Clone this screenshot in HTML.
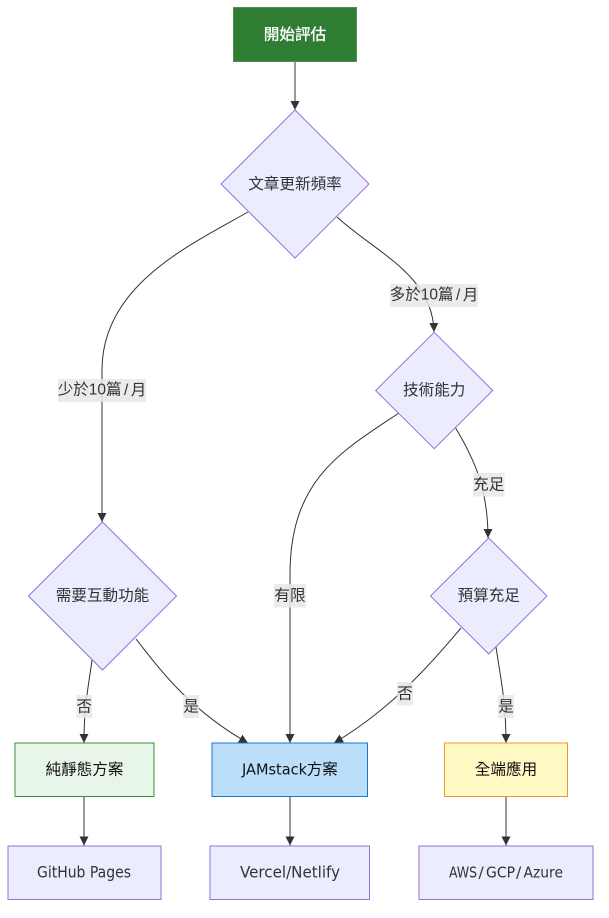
<!DOCTYPE html>
<html><head><meta charset="utf-8">
<style>
html,body{margin:0;padding:0;background:#fff;width:609px;height:918px;overflow:hidden}
svg{display:block}
text{font-family:"DejaVu Sans","Noto Sans CJK TC",sans-serif;font-size:15.6px;fill:#333;text-anchor:middle;dominant-baseline:central}
.s{text-anchor:start;font-size:15.5px}
.d{font-family:"Liberation Sans","Noto Sans CJK TC",sans-serif;font-size:15.5px}
.e{fill:none;stroke:#333;stroke-width:1}
.n{fill:#ECECFF;stroke:#9370DB;stroke-width:1}
.l{fill:#e8e8e8;fill-opacity:.85;stroke:none}
</style></head><body>
<svg width="609" height="918" viewBox="0 0 609 918" xmlns="http://www.w3.org/2000/svg">
<defs>
<marker id="a" markerUnits="userSpaceOnUse" markerWidth="10" markerHeight="10" refX="9" refY="4.5" orient="auto">
<path d="M0,0 L9,4.5 L0,9 z" fill="#333"/>
</marker>
</defs>

<g class="edges">
<path class="e" d="M295,61.5 L295,110" marker-end="url(#a)"/>
<path class="e" d="M248,212 C190,245 102,285 102,370 L102,522" marker-end="url(#a)"/>
<path class="e" d="M337,217 C375,252 433,275 434,332" marker-end="url(#a)"/>
<path class="e" d="M399,413 C340,452 290,480 290,575 L290,743" marker-end="url(#a)"/>
<path class="e" d="M455,427 C475,460 488,490 488,538" marker-end="url(#a)"/>
<path class="e" d="M461,628 C430,665 390,710 334,743" marker-end="url(#a)"/>
<path class="e" d="M496,647 C500,675 506,700 506,743" marker-end="url(#a)"/>
<path class="e" d="M92,660 C88,690 84,705 84,743" marker-end="url(#a)"/>
<path class="e" d="M136,639 C160,670 190,710 248,743" marker-end="url(#a)"/>
<path class="e" d="M84,796.5 L84,845.5" marker-end="url(#a)"/>
<path class="e" d="M290,796.5 L290,845.5" marker-end="url(#a)"/>
<path class="e" d="M506,796.5 L506,845.5" marker-end="url(#a)"/>
</g>

<rect x="233.5" y="7.5" width="123" height="54" fill="#2e7d32" stroke="#4f8f53"/>
<text x="295" y="34.5" style="fill:#fff;stroke:#fff;stroke-width:.35px">開始評估</text>

<polygon class="n" points="295,110 369,184 295,258 221,184"/>
<text x="295" y="184">文章更新頻率</text>

<polygon class="n" points="434.2,332.3 492.7,390.5 434.2,448.7 375.7,390.5"/>
<text x="434.2" y="390">技術能力</text>

<polygon class="n" points="102.5,522 176.5,596 102.5,670 28.5,596"/>
<text x="102.5" y="595.5">需要互動功能</text>

<polygon class="n" points="488.7,538 547,596 488.7,654 430.5,596"/>
<text x="488.7" y="595.5">預算充足</text>

<rect x="15" y="743" width="139" height="53.5" fill="#e8f5e9" stroke="#388e3c"/>
<text x="84.5" y="769.5" style="fill:#111">純靜態方案</text>

<rect x="212" y="743" width="155.5" height="53.5" fill="#bbdefb" stroke="#1976d2"/>
<text class="s" x="242" y="769.5" style="fill:#111" textLength="65" lengthAdjust="spacingAndGlyphs">JAMstack</text>
<text x="322.3" y="769.5" style="fill:#111">方案</text>

<rect x="444.5" y="743" width="123" height="53.5" fill="#fff9c4" stroke="#f9912a"/>
<text x="506" y="769.5" style="fill:#111">全端應用</text>

<rect class="n" x="8" y="846" width="153" height="53.5"/>
<text x="84" y="872.5" textLength="94" lengthAdjust="spacingAndGlyphs">GitHub Pages</text>

<rect class="n" x="210" y="846" width="159.5" height="53.5"/>
<text x="290" y="872.5" textLength="100" lengthAdjust="spacingAndGlyphs">Vercel/Netlify</text>

<rect class="n" x="419" y="846" width="174" height="53.5"/>
<text class="s" x="449" y="872.5" textLength="28" lengthAdjust="spacingAndGlyphs">AWS</text>
<text class="s" x="478.5" y="872.5">/</text>
<text class="s" x="486" y="872.5" textLength="29" lengthAdjust="spacingAndGlyphs">GCP</text>
<text class="s" x="516" y="872.5">/</text>
<text class="s" x="523.5" y="872.5" textLength="39.5" lengthAdjust="spacingAndGlyphs">Azure</text>

<rect class="l" x="58" y="379" width="88" height="23"/>
<text class="d" x="102" y="390">少於10篇<tspan dx="2.5">/</tspan><tspan dx="2.5">月</tspan></text>
<rect class="l" x="390" y="284" width="88" height="23"/>
<text class="d" x="434" y="295">多於10篇<tspan dx="2.5">/</tspan><tspan dx="2.5">月</tspan></text>
<rect class="l" x="473" y="473" width="31.5" height="23.5"/>
<text x="488.7" y="484.5">充足</text>
<rect class="l" x="274" y="584" width="32" height="23.5"/>
<text x="290" y="595.5">有限</text>
<rect class="l" x="76.5" y="695" width="15.5" height="23"/>
<text x="84.2" y="706.5">否</text>
<rect class="l" x="183" y="695" width="16" height="23"/>
<text x="191" y="706.5">是</text>
<rect class="l" x="397" y="682" width="16" height="23.5"/>
<text x="405" y="693.5">否</text>
<rect class="l" x="498" y="695" width="16" height="23"/>
<text x="506" y="706.5">是</text>
</svg>
</body></html>
